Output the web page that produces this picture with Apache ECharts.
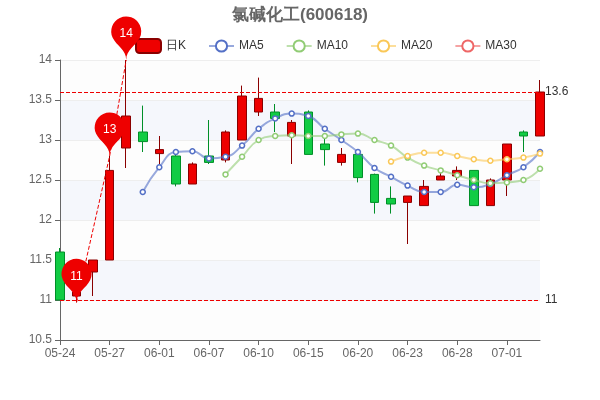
<!DOCTYPE html><html><head><meta charset="utf-8"><script src="https://cdn.jsdelivr.net/npm/echarts@6/dist/echarts.min.js"></script></head><body style="margin:0"><div id="c" style="width:600px;height:400px"></div><script>
var dates=['05-24','05-25','05-26','05-27','05-28','05-29','06-01','06-03','06-05','06-07','06-08','06-09','06-10','06-12','06-14','06-15','06-17','06-19','06-20','06-21','06-22','06-23','06-25','06-27','06-28','06-29','06-30','07-01','07-02','07-03'];
var kdata=[[11.6,11.0,11.0,11.65],[11.05,11.1,10.97,11.3],[11.35,11.5,11.05,11.5],[11.5,12.62,11.5,12.8],[12.9,13.3,12.65,14.0],[13.1,12.98,12.85,13.43],[12.83,12.88,12.7,13.05],[12.8,12.45,12.42,12.82],[12.45,12.7,12.45,12.72],[12.8,12.72,12.7,13.25],[12.75,13.1,12.72,13.12],[13.0,13.55,13.0,13.68],[13.35,13.52,13.3,13.78],[13.35,13.27,13.1,13.45],[13.05,13.22,12.7,13.25],[13.35,12.82,12.82,13.37],[12.95,12.88,12.68,13.02],[12.72,12.82,12.68,12.9],[12.82,12.53,12.47,12.85],[12.57,12.22,12.08,12.58],[12.27,12.2,12.08,12.42],[12.22,12.3,11.7,12.3],[12.18,12.42,12.18,12.5],[12.5,12.55,12.5,12.62],[12.55,12.62,12.5,12.67],[12.62,12.18,12.18,12.62],[12.18,12.5,12.18,12.52],[12.5,12.95,12.3,12.95],[13.1,13.05,12.85,13.12],[13.05,13.6,13.05,13.75]];
var ma5=['-','-','-','-','-',12.35,12.66,12.85,12.86,12.77,12.79,12.93,13.14,13.27,13.33,13.3,13.14,13.0,12.85,12.65,12.54,12.43,12.35,12.35,12.44,12.41,12.45,12.56,12.66,12.85];
var ma10=['-','-','-','-','-','-','-','-','-','-',12.57,12.79,13.0,13.05,13.06,13.05,13.05,13.07,13.08,13.0,12.93,12.78,12.68,12.62,12.56,12.5,12.46,12.47,12.5,12.64];
var ma20=['-','-','-','-','-','-','-','-','-','-','-','-','-','-','-','-','-','-','-','-',12.73,12.8,12.84,12.84,12.8,12.76,12.74,12.76,12.78,12.83];
var ma30=dates.map(function(){return '-';});
var pins=[{name:'最高',coord:[4,14.0],value:14},{name:'a',coord:[3,12.8],value:13},{name:'最低',coord:[1,10.97],value:11}];
var ch=echarts.init(document.getElementById('c'));
function ma(n,d,c){return {name:n,type:'line',data:d,smooth:true,symbol:'circle',symbolSize:5,showAllSymbol:true,itemStyle:{color:'#fff',borderColor:c,borderWidth:1.5},lineStyle:{color:c,width:2,opacity:0.6},color:c};}
ch.setOption({animation:false,
title:{text:'氯碱化工(600618)',left:'center',top:2,textStyle:{color:'#666',fontSize:17,fontWeight:'bold'}},
legend:{top:33,left:130,itemGap:22,textStyle:{color:'#333',fontSize:12},data:['日K','MA5','MA10','MA20','MA30']},
grid:{left:60,right:60,top:60,bottom:60},
xAxis:{type:'category',data:dates,boundaryGap:false,axisLine:{lineStyle:{color:'#666'}},axisLabel:{interval:2,color:'#666'},axisTick:{alignWithLabel:true}},
yAxis:{type:'value',min:10.5,max:14,interval:0.5,axisLine:{show:true,lineStyle:{color:'#666'}},axisTick:{show:true},axisLabel:{color:'#666'},splitLine:{lineStyle:{color:'#eee'}},splitArea:{show:true,areaStyle:{color:['rgba(250,250,250,0.3)','rgba(235,240,250,0.5)']}}},
series:[{name:'日K',type:'candlestick',data:kdata,barWidth:9,itemStyle:{color:'#e00',color0:'#1c4',borderColor:'#8a0000',borderColor0:'#008f28'},
markPoint:{symbolSize:50,label:{color:'#fff',fontSize:12},itemStyle:{color:'#e00'},data:pins},
markLine:{symbol:'none',lineStyle:{color:'#e00',type:'dashed',width:1},label:{position:'end',color:'#333'},data:[{yAxis:13.6},{yAxis:11},
[{coord:[1,10.97]},{coord:[3,12.8]}],[{coord:[3,12.8]},{coord:[4,14.0]}]]}},
ma('MA5',ma5,'#5470c6'),ma('MA10',ma10,'#91cc75'),ma('MA20',ma20,'#fac858'),ma('MA30',ma30,'#ee6666')]});
</script></body></html>
